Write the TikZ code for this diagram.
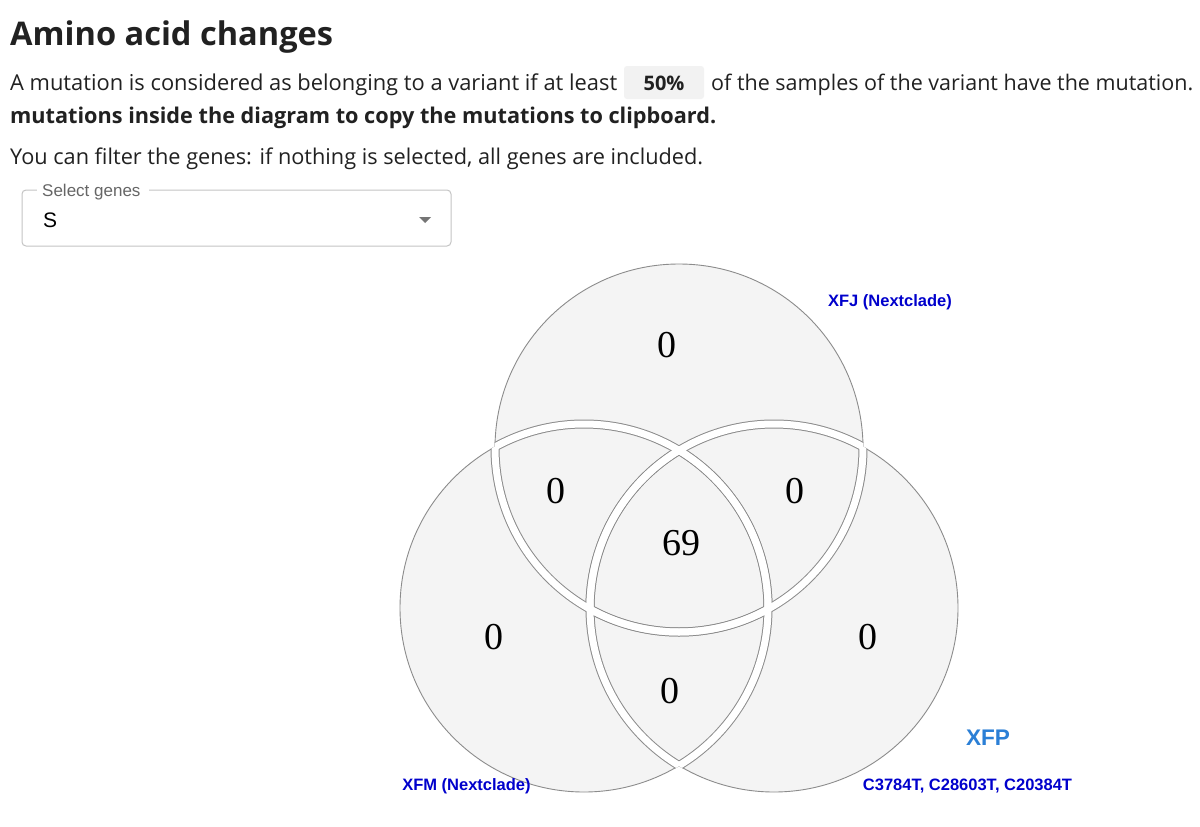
\documentclass[tikz,border=0pt]{standalone}
\usepackage{fontspec}
\setmainfont{Open Sans}
\newfontfamily\arialf{Liberation Sans}
\newfontfamily\timesf{Liberation Serif}
\newcommand\fitwd[2]{\resizebox{#1pt}{!}{#2}}
\definecolor{txt}{HTML}{212121}
\definecolor{vfillc}{HTML}{F4F4F4}
\definecolor{vline}{HTML}{8C8C8C}
\definecolor{lblue}{HTML}{0000CC}
\definecolor{xfpblue}{HTML}{2B7FD6}
\definecolor{boxbd}{HTML}{C4C4C4}
\definecolor{pctbg}{HTML}{F2F2F2}
\definecolor{labgray}{HTML}{666666}
\definecolor{arrgray}{HTML}{757575}
\begin{document}
\begin{tikzpicture}[x=1pt,y=-1pt,
  body/.style={anchor=base west, inner sep=0pt, text=txt, font=\fontsize{20}{24}\selectfont},
  num/.style={inner sep=0pt, font=\timesf\fontsize{38}{40}\selectfont, text=black},
  vlabel/.style={anchor=base, inner sep=0pt, text=lblue, font=\arialf\bfseries\fontsize{16.5}{18}\selectfont},
  vset/.style={fill=vfillc, draw=vline, line width=0.9pt},
  bandgray/.style={draw=vline, line width=9pt},
  bandwhite/.style={draw=white, line width=7pt},
]
\useasboundingbox (0,0) rectangle (1200,827);
\fill[white] (0,0) rectangle (1200,827);

% header text
\node[body, font=\bfseries\fontsize{30}{34}\selectfont] (title) at (10,45) {\fitwd{323}{Amino acid changes}};
\node[body] (l1a) at (10,90) {\fitwd{607}{A mutation is considered as belonging to a variant if at least}};
\fill[pctbg, rounded corners=3pt] (624,66) rectangle (704,99);
\node[body, anchor=base, font=\bfseries\fontsize{20}{24}\selectfont] (pct) at (664,90) {50\%};
\node[body] (l1b) at (711,90) {\fitwd{482}{of the samples of the variant have the mutation.}};
\node[body, font=\bfseries\fontsize{20}{24}\selectfont] (l2) at (10,123) {\fitwd{706}{mutations inside the diagram to copy the mutations to clipboard.}};
\node[body] (l3) at (10,164) {\fitwd{693}{You can filter the genes: if nothing is selected, all genes are included.}};

% select box
\draw[boxbd, line width=1pt, rounded corners=4pt] (22,190) rectangle (451,246);
\fill[white] (37,186) rectangle (149,194);
\node[anchor=base west, inner sep=0pt, text=labgray, font=\arialf\fontsize{17}{19}\selectfont] (sel) at (42,196) {Select genes};
\node[anchor=base west, inner sep=0pt, text=black, font=\arialf\fontsize{21}{24}\selectfont] (sval) at (43,227) {S};
\fill[arrgray] (419,217) -- (431,217) -- (425,223) -- cycle;

% venn
\coordinate (cT) at (679,448);
\coordinate (cL) at (584,608);
\coordinate (cR) at (774,608);
\foreach \c in {cT,cL,cR} {\fill[vfillc] (\c) circle[radius=184pt];}
\foreach \c in {cT,cL,cR} {\draw[vline, line width=0.9pt] (\c) circle[radius=184pt];}
\foreach \i/\j in {cT/cL,cT/cR,cL/cT,cL/cR,cR/cT,cR/cL} {
  \begin{scope}
    \clip (\j) circle[radius=184.5pt];
    \draw[bandgray] (\i) circle[radius=184pt];
  \end{scope}
}
\foreach \i/\j in {cT/cL,cT/cR,cL/cT,cL/cR,cR/cT,cR/cL} {
  \begin{scope}
    \clip (\j) circle[radius=184.5pt];
    \draw[bandwhite] (\i) circle[radius=184pt];
  \end{scope}
}

\node[num] (nT) at (667,345) {0};
\node[num] (nTL) at (556,491) {0};
\node[num] (nTR) at (795,491) {0};
\node[num] (nC) at (681,543) {69};
\node[num] (nL) at (494,637) {0};
\node[num] (nR) at (868,637) {0};
\node[num] (nB) at (670,691) {0};

\node[vlabel] (labT) at (890,306) {XFJ (Nextclade)};
\node[vlabel] (labL) at (466.5,790) {XFM (Nextclade)};
\node[vlabel, text=xfpblue, font=\arialf\bfseries\fontsize{22.6}{24}\selectfont] (labR) at (988,745) {XFP};
\node[vlabel] (labR2) at (967.5,790) {C3784T, C28603T, C20384T};
\end{tikzpicture}
\end{document}
